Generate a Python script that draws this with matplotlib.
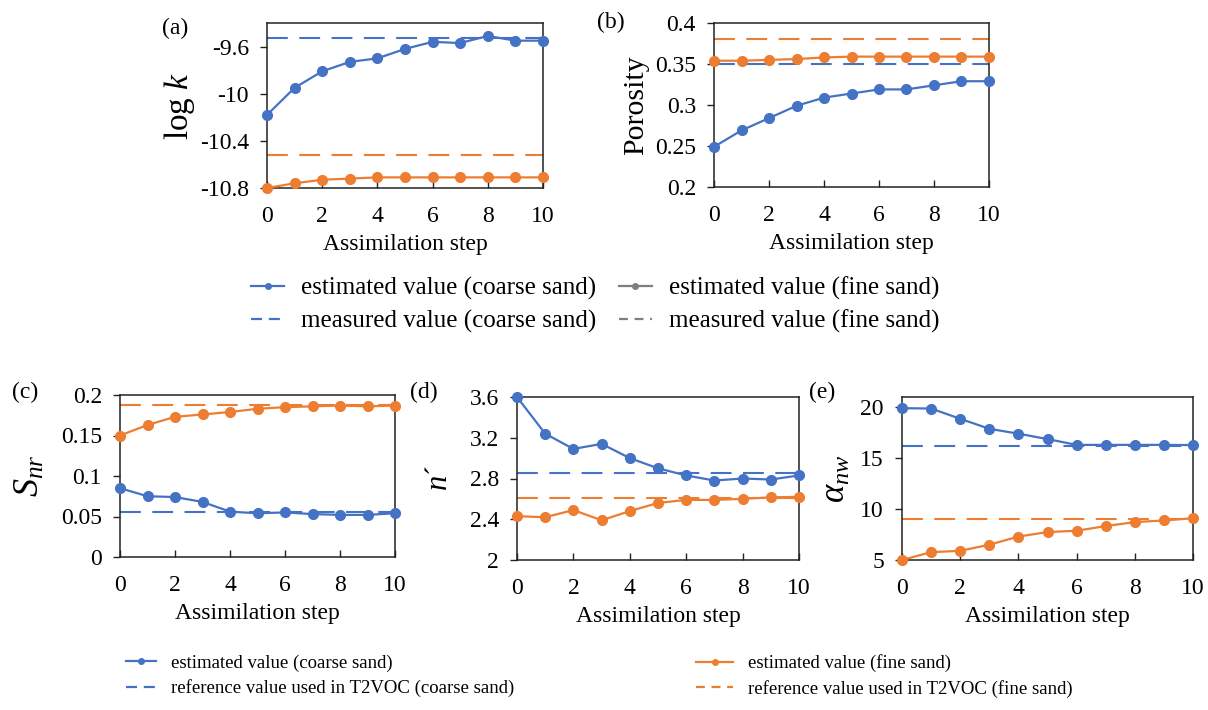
import matplotlib
matplotlib.use("Agg")
import matplotlib.pyplot as plt
from matplotlib.lines import Line2D
from matplotlib.ticker import FormatStrFormatter

plt.rcParams["font.family"] = ["Liberation Serif", "DejaVu Serif"]
plt.rcParams["mathtext.fontset"] = "custom"
plt.rcParams["mathtext.rm"] = "Liberation Serif"
plt.rcParams["mathtext.it"] = "Liberation Serif:italic"
plt.rcParams["axes.unicode_minus"] = False

BLUE = "#4472C4"
ORANGE = "#ED7D31"
GRAY = "#7F7F7F"

steps = [0, 1, 2, 3, 4, 5, 6, 7, 8, 9, 10]

# (a) log permeability
logk_coarse = [-10.18, -9.95, -9.81, -9.73, -9.70, -9.62, -9.56, -9.57, -9.51, -9.55, -9.55]
logk_fine = [-10.80, -10.76, -10.73, -10.72, -10.71, -10.71, -10.71, -10.71, -10.71, -10.71, -10.71]
logk_meas = [-9.53, -10.52]  # coarse, fine

# (b) porosity
por_coarse = [0.249, 0.269, 0.284, 0.299, 0.309, 0.314, 0.319, 0.319, 0.324, 0.329, 0.329]
por_fine = [0.354, 0.354, 0.355, 0.356, 0.358, 0.359, 0.359, 0.359, 0.359, 0.359, 0.359]
por_meas = [0.35, 0.38]

# (c) residual NAPL saturation
snr_coarse = [0.085, 0.075, 0.074, 0.068, 0.056, 0.054, 0.055, 0.053, 0.052, 0.052, 0.054]
snr_fine = [0.150, 0.163, 0.173, 0.176, 0.179, 0.183, 0.185, 0.186, 0.187, 0.186, 0.187]
snr_ref = [0.055, 0.188]

# (d) van Genuchten n
n_coarse = [3.60, 3.24, 3.09, 3.14, 3.00, 2.90, 2.83, 2.78, 2.80, 2.79, 2.83]
n_fine = [2.43, 2.42, 2.49, 2.39, 2.48, 2.56, 2.59, 2.59, 2.60, 2.615, 2.62]
n_ref = [2.85, 2.61]

# (e) alpha_nw
alpha_coarse = [19.9, 19.87, 18.86, 17.88, 17.4, 16.87, 16.3, 16.3, 16.3, 16.3, 16.28]
alpha_fine = [5.0, 5.77, 5.9, 6.5, 7.3, 7.74, 7.87, 8.33, 8.72, 8.88, 9.1]
alpha_ref = [16.2, 9.0]

W, H = 1208, 710
fig = plt.figure(figsize=(W / 100, H / 100), dpi=100)


def box(l, r, t, b):
    return [l / W, 1 - b / H, (r - l) / W, (b - t) / H]


panels = [
    dict(rect=box(267, 543, 23, 188), coarse=logk_coarse, fine=logk_fine, ref=logk_meas,
         ylim=(-10.8, -9.4), yticks=[-10.8, -10.4, -10.0, -9.6],
         ylabel=r"log $\mathit{k}$", lx=-0.255, lsize=24, tag="(a)", tagpos=(175, 28)),
    dict(rect=box(714, 989, 23, 187), coarse=por_coarse, fine=por_fine, ref=por_meas,
         ylim=(0.2, 0.4), yticks=[0.2, 0.25, 0.3, 0.35, 0.4],
         ylabel="Porosity", lx=-0.235, lsize=21.5, tag="(b)", tagpos=(611, 22)),
    dict(rect=box(120, 395, 395, 557), coarse=snr_coarse, fine=snr_fine, ref=snr_ref,
         ylim=(0, 0.2), yticks=[0, 0.05, 0.1, 0.15, 0.2],
         ylabel=r"$S_{nr}$", lx=-0.265, lsize=26, tag="(c)", tagpos=(25, 392)),
    dict(rect=box(517, 799, 397, 560), coarse=n_coarse, fine=n_fine, ref=n_ref,
         ylim=(2, 3.6), yticks=[2, 2.4, 2.8, 3.2, 3.6],
         ylabel=r"$n$´", lx=-0.225, lsize=22, tag="(d)", tagpos=(424, 392)),
    dict(rect=box(902, 1193, 397, 560), coarse=alpha_coarse, fine=alpha_fine, ref=alpha_ref,
         ylim=(5, 21), yticks=[5, 10, 15, 20],
         ylabel=r"$\alpha_{nw}$", lx=-0.17, lsize=25, tag="(e)", tagpos=(822, 392)),
]

for p in panels:
    ax = fig.add_axes(p["rect"])
    ax.axhline(p["ref"][0], color=BLUE, ls=(0, (10, 5.5)), lw=1.5)
    ax.axhline(p["ref"][1], color=ORANGE, ls=(0, (10, 5.5)), lw=1.5)
    ax.plot(steps, p["coarse"], "-o", color=BLUE, lw=1.6, ms=7, clip_on=False, zorder=3)
    ax.plot(steps, p["fine"], "-o", color=ORANGE, lw=1.6, ms=7, clip_on=False, zorder=3)
    ax.set_xlim(0, 10)
    ax.set_xticks([0, 2, 4, 6, 8, 10])
    ax.set_ylim(*p["ylim"])
    ax.set_yticks(p["yticks"])
    ax.yaxis.set_major_formatter(FormatStrFormatter("%g"))
    ax.tick_params(axis="both", labelsize=17, width=1, color="#222222")
    ax.tick_params(axis="x", direction="in", length=5, pad=13)
    ax.tick_params(axis="y", direction="out", length=5, pad=8)
    for s in ax.spines.values():
        s.set_color("#222222")
        s.set_linewidth(1.1)
    ax.set_xlabel("Assimilation step", fontsize=17, labelpad=5)
    ax.set_ylabel(p["ylabel"], fontsize=p["lsize"])
    ax.yaxis.set_label_coords(p["lx"], 0.5)
    fig.text(p["tagpos"][0] / W, 1 - p["tagpos"][1] / H, p["tag"], fontsize=17,
             ha="center", va="center")

# legend for the upper row
top_handles = [
    Line2D([], [], color=BLUE, marker="o", ms=4, lw=1.6),
    Line2D([], [], color=BLUE, ls=(0, (5, 3)), lw=1.6),
    Line2D([], [], color=GRAY, marker="o", ms=4, lw=1.6),
    Line2D([], [], color=GRAY, ls=(0, (4, 3)), lw=1.6),
]
top_labels = ["estimated value (coarse sand)", "measured value (coarse sand)",
              "estimated value (fine sand)", "measured value (fine sand)"]
fig.legend(top_handles, top_labels, loc="center", bbox_to_anchor=(0.493, 0.5705), ncol=2,
           frameon=False, fontsize=18, handlelength=1.3, columnspacing=0.9,
           handletextpad=0.7, labelspacing=0.4)

# legends for the lower row
fig.legend([Line2D([], [], color=BLUE, marker="o", ms=4, lw=1.6),
            Line2D([], [], color=BLUE, ls=(0, (5, 3)), lw=1.6)],
           ["estimated value (coarse sand)", "reference value used in T2VOC (coarse sand)"],
           loc="center left", bbox_to_anchor=(0.09, 0.048), frameon=False, fontsize=13.5,
           handlelength=1.6, handletextpad=0.8, labelspacing=0.4)
fig.legend([Line2D([], [], color=ORANGE, marker="o", ms=4, lw=1.6),
            Line2D([], [], color=ORANGE, ls=(0, (4, 3)), lw=1.6)],
           ["estimated value (fine sand)", "reference value used in T2VOC (fine sand)"],
           loc="center left", bbox_to_anchor=(0.562, 0.048), frameon=False, fontsize=13.5,
           handlelength=2.0, handletextpad=0.8, labelspacing=0.4)

fig.savefig("out.png", dpi=100)
